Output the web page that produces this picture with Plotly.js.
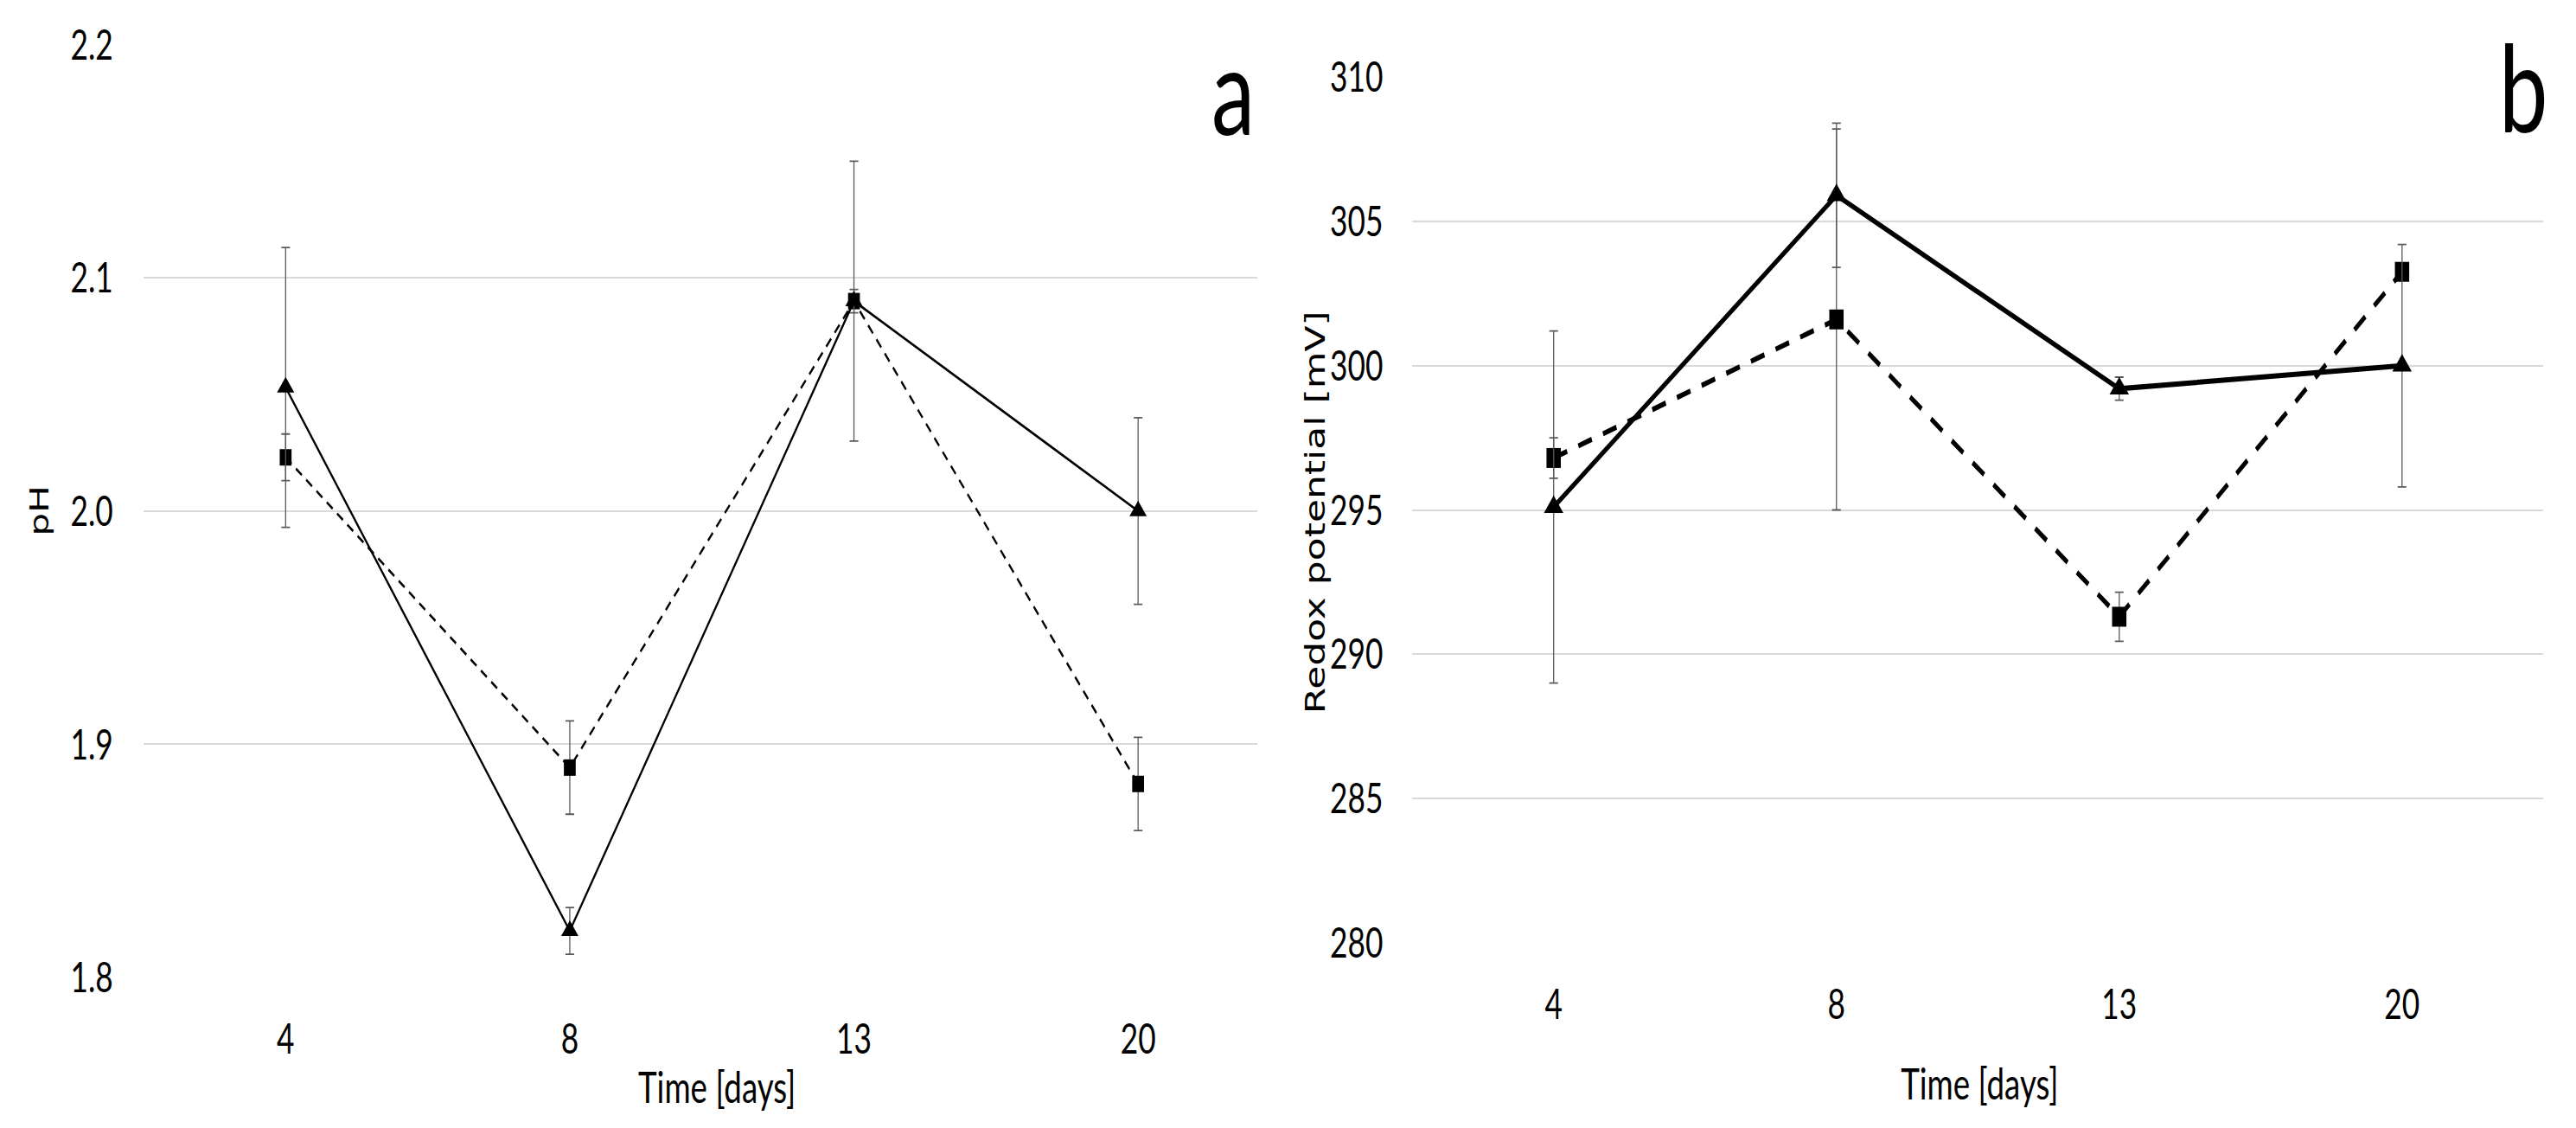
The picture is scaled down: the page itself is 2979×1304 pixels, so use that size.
<!DOCTYPE html>
<html>
<head>
<meta charset="utf-8">
<script src="https://cdn.plot.ly/plotly-3.0.1.min.js"></script>
<style>
  html, body { margin: 0; padding: 0; background: #fff; overflow: hidden; width: 2979px; height: 1304px; }
  /* the reference figure is horizontally compressed; reproduce that look */
  #chart { width: 4138px; height: 1304px; transform: scaleX(0.72); transform-origin: 0 0; }
</style>
</head>
<body>
<div id="chart"></div>
<script>
// ---- data ----
const days = ['4', '8', '13', '20'];

const phTriangle = [2.053, 1.82, 2.09, 2.00];
const phTriangleErr = [0.06, 0.01, 0.06, 0.04];
const phSquare = [2.023, 1.89, 2.09, 1.883];
const phSquareErr = [0.01, 0.02, 0.005, 0.02];

const redoxTriangle = [295.1, 305.9, 299.2, 300.0];
const redoxTriangleErr = [6.1, 2.5, 0.4, 4.2];
const redoxSquare = [296.8, 301.6, 291.3, 303.25];
const redoxSquareErr = [0.7, 6.6, 0.85, 0.2];

const phTicks = [1.8, 1.9, 2.0, 2.1, 2.2];
const redoxTicks = [280, 285, 290, 295, 300, 305, 310];

// ---- styles ----
const W = 2979, H = 1304, S = 0.72;
const LW = Math.round(W / S);
const narrow = 'Lato, Carlito, Open Sans, sans-serif';
const wide = 'DejaVu Sans, Verdana, sans-serif';
const errStyle = (arr) => ({type: 'data', array: arr, visible: true, color: '#5a5a5a', thickness: 1.8, width: 7});

const traces = [
  {x: days, y: phSquare, xaxis: 'x', yaxis: 'y', mode: 'lines+markers',
   line: {color: '#000', width: 3, dash: '12px,9px'},
   marker: {symbol: 'square', size: 19, color: '#000'},
   error_y: errStyle(phSquareErr)},
  {x: days, y: phTriangle, xaxis: 'x', yaxis: 'y', mode: 'lines+markers',
   line: {color: '#000', width: 3},
   marker: {symbol: 'triangle-up', size: 24, color: '#000'},
   error_y: errStyle(phTriangleErr)},
  {x: days, y: redoxSquare, xaxis: 'x2', yaxis: 'y2', mode: 'lines+markers',
   line: {color: '#000', width: 6, dash: '23px,19px'},
   marker: {symbol: 'square', size: 23, color: '#000'},
   error_y: errStyle(redoxSquareErr)},
  {x: days, y: redoxTriangle, xaxis: 'x2', yaxis: 'y2', mode: 'lines+markers',
   line: {color: '#000', width: 6},
   marker: {symbol: 'triangle-up', size: 27, color: '#000'},
   error_y: errStyle(redoxTriangleErr)}
];

// positions given in final (compressed) pixels, converted to paper fractions
const px = (v) => v / W;
const py = (v) => 1 - v / H;

const axisCommon = {
  showline: false, zeroline: false, ticks: '',
  tickfont: {family: narrow, size: 49, color: '#000'}
};

const layout = {
  width: LW, height: H,
  margin: {l: 0, r: 0, t: 0, b: 0},
  paper_bgcolor: '#fff', plot_bgcolor: '#fff',
  showlegend: false,
  xaxis: Object.assign({}, axisCommon, {
    type: 'category', domain: [px(166), px(1454)], range: [-0.5, 3.42],
    showgrid: false, anchor: 'y', ticklabelstandoff: 38
  }),
  yaxis: Object.assign({}, axisCommon, {
    domain: [py(1130), py(51.5)], range: [1.8, 2.2],
    tickvals: phTicks, tickformat: '.1f',
    showgrid: true, gridcolor: '#d9d9d9', gridwidth: 2, anchor: 'x',
    ticklabelstandoff: 48
  }),
  xaxis2: Object.assign({}, axisCommon, {
    type: 'category', domain: [px(1633), px(2941)], range: [-0.5, 3.5],
    showgrid: false, anchor: 'y2', ticklabelstandoff: 38
  }),
  yaxis2: Object.assign({}, axisCommon, {
    domain: [py(1090), py(89)], range: [280, 310],
    tickvals: redoxTicks,
    showgrid: true, gridcolor: '#d9d9d9', gridwidth: 2, anchor: 'x2',
    ticklabelstandoff: 46
  }),
  annotations: [
    {text: 'Time [days]', xref: 'paper', yref: 'paper', x: px(829), y: py(1255),
     xanchor: 'center', yanchor: 'middle', showarrow: false,
     font: {family: narrow, size: 51, color: '#000'}},
    {text: 'Time [days]', xref: 'paper', yref: 'paper', x: px(2289), y: py(1251),
     xanchor: 'center', yanchor: 'middle', showarrow: false,
     font: {family: narrow, size: 51, color: '#000'}},
    {text: 'pH', xref: 'paper', yref: 'paper', x: px(45), y: py(591),
     xanchor: 'center', yanchor: 'middle', showarrow: false, textangle: -90,
     font: {family: wide, size: 42, color: '#000'}},
    {text: 'Redox potential [mV]', xref: 'paper', yref: 'paper', x: px(1520), y: py(592),
     xanchor: 'center', yanchor: 'middle', showarrow: false, textangle: -90,
     font: {family: wide, size: 44, color: '#000'}},
    {text: 'a', xref: 'paper', yref: 'paper', x: px(1426), y: py(102),
     xanchor: 'center', yanchor: 'middle', showarrow: false,
     font: {family: narrow, size: 140, color: '#000'}},
    {text: 'b', xref: 'paper', yref: 'paper', x: px(2918), y: py(99),
     xanchor: 'center', yanchor: 'middle', showarrow: false,
     font: {family: narrow, size: 140, color: '#000'}}
  ]
};

Plotly.newPlot('chart', traces, layout, {staticPlot: true, displayModeBar: false});
</script>
</body>
</html>
